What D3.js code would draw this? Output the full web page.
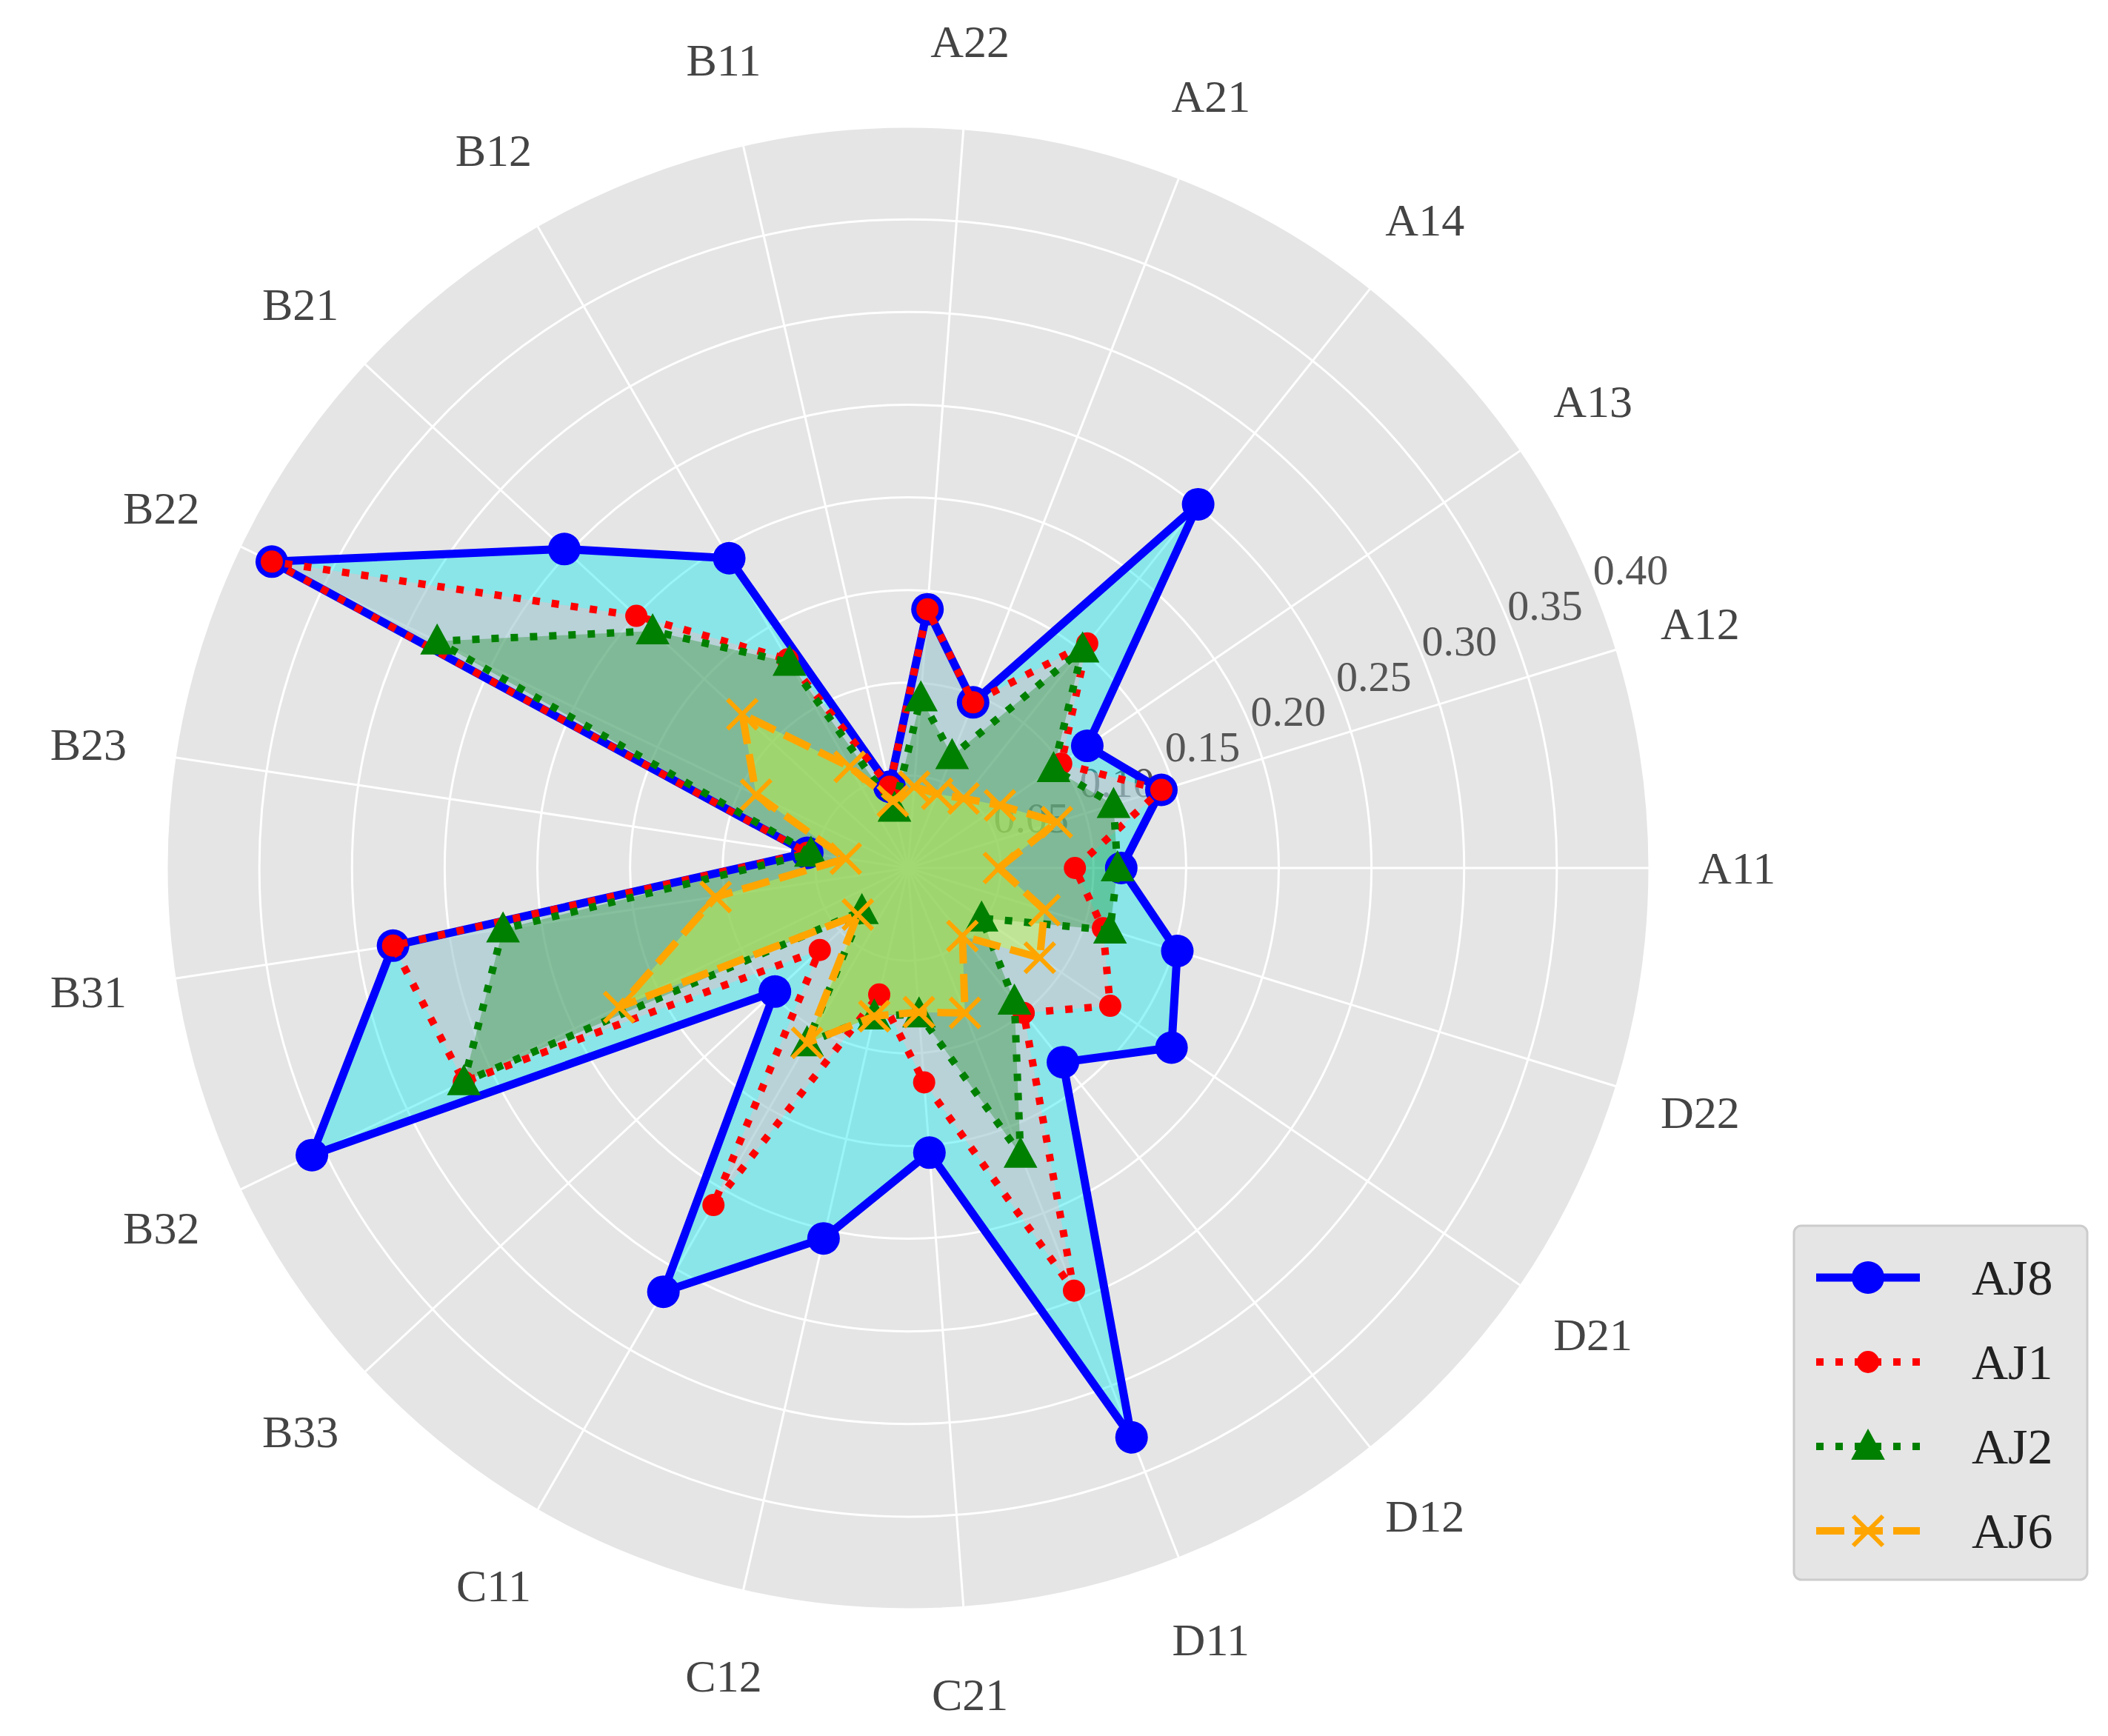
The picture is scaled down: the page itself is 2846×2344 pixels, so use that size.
<!DOCTYPE html>
<html>
<head>
<meta charset="utf-8">
<script src="https://cdn.jsdelivr.net/npm/d3@7"></script>
<style>
  body { margin: 0; background: #fff; }
  text { font-family: "Liberation Serif", "DejaVu Serif", serif; }
</style>
</head>
<body>
<div id="chart"></div>
<script>
const categories = ['A11', 'A12', 'A13', 'A14', 'A21', 'A22', 'B11', 'B12', 'B21', 'B22', 'B23',
                    'B31', 'B32', 'B33', 'C11', 'C12', 'C21', 'D11', 'D12', 'D21', 'D22'];
const aj8 = [0.115, 0.143, 0.117, 0.251, 0.096, 0.140, 0.045, 0.193, 0.253, 0.381, 0.055,
             0.281, 0.357, 0.098, 0.264, 0.205, 0.154, 0.330, 0.134, 0.172, 0.152];
const aj1 = [0.090, 0.143, 0.100, 0.155, 0.096, 0.140, 0.045, 0.130, 0.200, 0.381, 0.055,
             0.281, 0.266, 0.065, 0.210, 0.070, 0.116, 0.245, 0.100, 0.132, 0.110];
const aj2 = [0.113, 0.116, 0.095, 0.151, 0.065, 0.092, 0.033, 0.128, 0.188, 0.282, 0.053,
             0.221, 0.266, 0.034, 0.109, 0.082, 0.079, 0.166, 0.092, 0.048, 0.114];
const aj6 = [0.049, 0.084, 0.060, 0.048, 0.043, 0.044, 0.037, 0.063, 0.122, 0.091, 0.034,
             0.105, 0.173, 0.037, 0.109, 0.082, 0.078, 0.084, 0.047, 0.086, 0.077];
const radialTicks = [0.05, 0.10, 0.15, 0.20, 0.25, 0.30, 0.35, 0.40];

const series = [
  {name: 'AJ8', values: aj8, stroke: 'blue', fill: '#00e5ee', fillOpacity: 0.4, width: 11, dash: null, marker: 'circle', size: 22},
  {name: 'AJ1', values: aj1, stroke: 'red', fill: '#ffb6c1', fillOpacity: 0.4, width: 10, dash: '10,16', marker: 'circle', size: 15},
  {name: 'AJ2', values: aj2, stroke: 'green', fill: 'green', fillOpacity: 0.3, width: 10, dash: '10,16', marker: 'triangle', size: 24},
  {name: 'AJ6', values: aj6, stroke: 'orange', fill: '#ccff33', fillOpacity: 0.4, width: 10, dash: '38,14', marker: 'x', size: 20}
];

const W = 2846, H = 2344, cx = 1226, cy = 1172, R = 1001;

const svg = d3.select('#chart').append('svg')
    .attr('width', W).attr('height', H);
const g = svg.append('g').attr('transform', `translate(${cx}, ${cy})`);

const r = d3.scaleLinear().domain([0, 0.40]).range([0, R]);
const angle = d3.scaleLinear().domain([0, categories.length]).range([0, 2 * Math.PI]);
// screen coords for a value on a category axis (counter-clockwise from east)
const px = (i, v) => r(v) * Math.cos(angle(i));
const py = (i, v) => -r(v) * Math.sin(angle(i));

g.append('circle').attr('r', R).attr('fill', '#e5e5e5');

g.selectAll('.grid').data(radialTicks).enter().append('circle')
    .attr('r', d => r(d)).attr('fill', 'none')
    .attr('stroke', '#fff').attr('stroke-width', 3);

g.selectAll('.spoke').data(categories).enter().append('line')
    .attr('x1', 0).attr('y1', 0)
    .attr('x2', (d, i) => px(i, 0.40)).attr('y2', (d, i) => py(i, 0.40))
    .attr('stroke', '#fff').attr('stroke-width', 3);

g.selectAll('.cat').data(categories).enter().append('text')
    .attr('x', (d, i) => 1.118 * R * Math.cos(angle(i)))
    .attr('y', (d, i) => -1.118 * R * Math.sin(angle(i)))
    .attr('text-anchor', 'middle').attr('dominant-baseline', 'central')
    .attr('font-size', 62).attr('fill', '#444')
    .text(d => d);

const tickAngle = 22.5 * Math.PI / 180;
g.selectAll('.rtick').data(radialTicks).enter().append('text')
    .attr('x', d => r(d) * Math.cos(tickAngle))
    .attr('y', d => -r(d) * Math.sin(tickAngle))
    .attr('font-size', 58).attr('fill', '#555')
    .text(d => d.toFixed(2));

const line = d3.line().x(d => d[0]).y(d => d[1]).curve(d3.curveLinearClosed);
const pts = vals => vals.map((v, i) => [px(i, v), py(i, v)]);

series.forEach(s => {
  g.append('path').attr('d', line(pts(s.values)))
      .attr('fill', s.fill).attr('fill-opacity', s.fillOpacity).attr('stroke', 'none');
});

series.forEach(s => {
  g.append('path').attr('d', line(pts(s.values)))
      .attr('fill', 'none').attr('stroke', s.stroke).attr('stroke-width', s.width)
      .attr('stroke-dasharray', s.dash).attr('stroke-linejoin', 'round');
  drawMarkers(g, pts(s.values), s);
});

function drawMarkers(sel, points, s) {
  points.forEach(p => drawMarker(sel, p[0], p[1], s));
}

function drawMarker(sel, x, y, s) {
  if (s.marker === 'circle') {
    sel.append('circle').attr('cx', x).attr('cy', y).attr('r', s.size).attr('fill', s.stroke);
  } else if (s.marker === 'triangle') {
    const a = s.size;
    sel.append('path')
        .attr('d', `M${x},${y - a} L${x + a * 0.95},${y + a * 0.75} L${x - a * 0.95},${y + a * 0.75}Z`)
        .attr('fill', s.stroke);
  } else {
    const a = s.size;
    sel.append('path')
        .attr('d', `M${x - a},${y - a} L${x + a},${y + a} M${x - a},${y + a} L${x + a},${y - a}`)
        .attr('stroke', s.stroke).attr('stroke-width', 6);
  }
}

// legend
const lg = svg.append('g').attr('transform', 'translate(2422, 1655)');
lg.append('rect').attr('width', 396).attr('height', 478).attr('rx', 10)
    .attr('fill', '#e5e5e5').attr('stroke', '#ccc').attr('stroke-width', 3);
series.forEach((s, i) => {
  const y = 70 + i * 114;
  lg.append('line').attr('x1', 30).attr('x2', 170).attr('y1', y).attr('y2', y)
      .attr('stroke', s.stroke).attr('stroke-width', s.width).attr('stroke-dasharray', s.dash);
  drawMarker(lg, 100, y, s);
  lg.append('text').attr('x', 240).attr('y', y).attr('dominant-baseline', 'central')
      .attr('font-size', 68).attr('fill', '#222').text(s.name);
});
</script>
</body>
</html>
